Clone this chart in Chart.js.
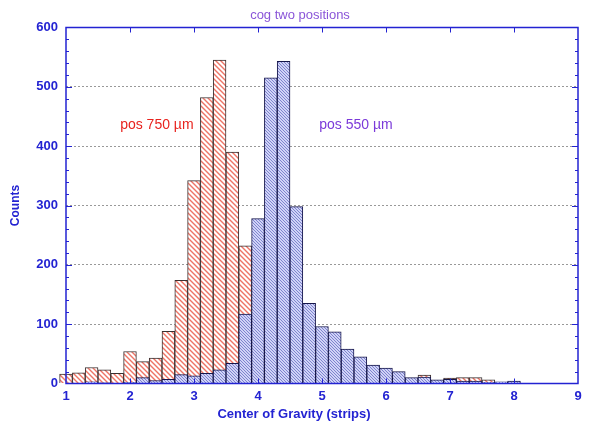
<!DOCTYPE html>
<html>
<head>
<meta charset="utf-8">
<script src="https://cdn.jsdelivr.net/npm/chart.js@4.4.1/dist/chart.umd.min.js"></script>
<style>
  html, body { margin: 0; padding: 0; background: #fff; }
  #wrap { width: 593px; height: 425px; }
</style>
</head>
<body>
<div id="wrap"><canvas id="cog" width="593" height="425"></canvas></div>
<script>
// bin centres (strips), bin width 0.2
const binCenters = [1.0, 1.2, 1.4, 1.6, 1.8, 2.0, 2.2, 2.4, 2.6, 2.8,
                    3.0, 3.2, 3.4, 3.6, 3.8, 4.0, 4.2, 4.4, 4.6, 4.8,
                    5.0, 5.2, 5.4, 5.6, 5.8, 6.0, 6.2, 6.4, 6.6, 6.8,
                    7.0, 7.2, 7.4, 7.6, 7.8, 8.0];

const counts750 = [16, 18, 27, 23, 17, 54, 37, 43, 88, 174,
                   342, 482, 545, 390, 232, 110, 62, 40, 30, 24,
                   20, 17, 15, 13, 12, 11, 10, 8, 14, 5,
                   9, 10, 10, 6, 2, 1];

const counts550 = [0, 0, 3, 1, 0, 2, 10, 5, 7, 15,
                   13, 17, 23, 34, 117, 278, 515, 543, 298, 135,
                   96, 87, 58, 45, 31, 26, 20, 10, 11, 6,
                   7, 4, 4, 2, 3, 4];

const xTicks = [1, 2, 3, 4, 5, 6, 7, 8, 9];
const yTicks = [0, 100, 200, 300, 400, 500, 600];

const labels = [
    { text: "pos 750 \u00b5m", x: 2.42, y: 435, color: "#e8231e" },
    { text: "pos 550 \u00b5m", x: 5.53, y: 435, color: "#7b3ad9" }
];

const AXIS_BLUE = "#2323d2";
const FONT = "'Liberation Sans', Arial, sans-serif";

const canvas = document.getElementById("cog");
const ctx = canvas.getContext("2d");

function hatch(bg, stroke, size, lw) {
    const c = document.createElement("canvas");
    c.width = size;
    c.height = size;
    const g = c.getContext("2d");
    g.fillStyle = bg;
    g.fillRect(0, 0, size, size);
    g.strokeStyle = stroke;
    g.lineWidth = lw;
    g.beginPath();
    g.moveTo(-1, -1); g.lineTo(size + 1, size + 1);
    g.moveTo(-1, size - 1); g.lineTo(1, size + 1);
    g.moveTo(size - 1, -1); g.lineTo(size + 1, 1);
    g.stroke();
    return ctx.createPattern(c, "repeat");
}

const redHatch = hatch("#ffffff", "#ee7466", 5, 1.4);
const blueHatch = hatch("#d0d3f7", "#5a62bc", 3, 0.7);

// blue box round the plot, inward ticks, titles and the two text labels
const framePlugin = {
    id: "frame",
    afterDatasetsDraw(chart) {
        const { ctx: g, chartArea: a, scales: { x, y } } = chart;
        g.save();
        g.strokeStyle = AXIS_BLUE;
        g.lineWidth = 1;
        g.beginPath();
        for (let v = 20; v < 600; v += 20) {
            const py = Math.round(y.getPixelForValue(v)) + 0.5;
            const len = v % 100 === 0 ? 6 : 3;
            g.moveTo(a.left, py); g.lineTo(a.left + len, py);
            g.moveTo(a.right, py); g.lineTo(a.right - len, py);
        }
        xTicks.slice(1, -1).forEach((v) => {
            const px = Math.round(x.getPixelForValue(v)) + 0.5;
            g.moveTo(px, a.bottom); g.lineTo(px, a.bottom - 5);
            g.moveTo(px, a.top); g.lineTo(px, a.top + 5);
        });
        g.stroke();
        g.lineWidth = 1.5;
        g.strokeRect(a.left, a.top, a.right - a.left, a.bottom - a.top);

        g.textAlign = "center";
        g.textBaseline = "middle";
        g.font = "14px " + FONT;
        labels.forEach((l) => {
            g.fillStyle = l.color;
            g.fillText(l.text, x.getPixelForValue(l.x), y.getPixelForValue(l.y));
        });

        g.font = "13px " + FONT;
        g.fillStyle = "#8a55d8";
        g.fillText("cog two positions", 300, 15);

        g.font = "bold 13px " + FONT;
        g.fillStyle = AXIS_BLUE;
        g.fillText("Center of Gravity (strips)", 294, 414);
        g.restore();
    }
};

const barCommon = {
    grouped: false,
    barPercentage: 1,
    categoryPercentage: 1,
    borderWidth: 1,
    clip: false
};

new Chart(ctx, {
    type: "bar",
    data: {
        datasets: [
            Object.assign({
                label: "pos 550 \u00b5m",
                data: binCenters.map((c, i) => ({ x: c, y: counts550[i] })),
                backgroundColor: blueHatch,
                borderColor: "#15154a",
                order: 0
            }, barCommon),
            Object.assign({
                label: "pos 750 \u00b5m",
                data: binCenters.map((c, i) => ({ x: c, y: counts750[i] })),
                backgroundColor: redHatch,
                borderColor: "#3a3030",
                order: 1
            }, barCommon)
        ]
    },
    options: {
        responsive: false,
        animation: false,
        layout: { padding: { left: 0, right: 15, top: 27.5, bottom: 0 } },
        plugins: {
            legend: { display: false },
            tooltip: { enabled: false },
            title: { display: false }
        },
        scales: {
            x: {
                type: "linear",
                min: 1,
                max: 9,
                offset: false,
                grid: { display: false, offset: false, drawTicks: false },
                border: { display: false },
                afterBuildTicks: (s) => { s.ticks = xTicks.map((v) => ({ value: v })); },
                ticks: {
                    color: AXIS_BLUE,
                    font: { family: FONT, size: 13, weight: "bold" },
                    padding: 5,
                    maxRotation: 0
                },
                afterFit: (s) => { s.height = 41.5; }
            },
            y: {
                min: 0,
                max: 600,
                grid: { color: "#999999", lineWidth: 1, drawTicks: false },
                border: { display: false, dash: [2, 2] },
                afterBuildTicks: (s) => { s.ticks = yTicks.map((v) => ({ value: v })); },
                ticks: {
                    color: AXIS_BLUE,
                    font: { family: FONT, size: 13, weight: "bold" },
                    padding: 8
                },
                title: {
                    display: true,
                    text: "Counts",
                    color: AXIS_BLUE,
                    font: { family: FONT, size: 12, weight: "bold" },
                    padding: { top: 8, bottom: 0 }
                },
                afterFit: (s) => { s.width = 66; }
            }
        }
    },
    plugins: [framePlugin]
});
</script>
</body>
</html>
